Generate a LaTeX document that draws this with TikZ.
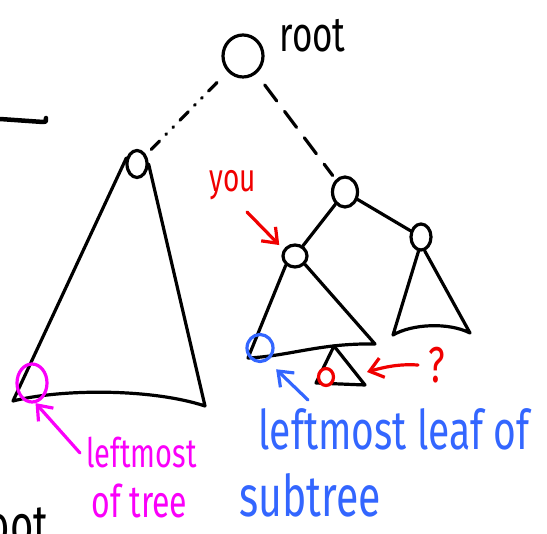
\documentclass[tikz,border=0pt]{standalone}
\usepackage{fontspec}
\setmainfont{Fira Sans}
\usetikzlibrary{arrows.meta,shapes.geometric}

\definecolor{inkred}{RGB}{240,0,0}
\definecolor{inkpink}{RGB}{250,0,250}
\definecolor{inkblue}{RGB}{51,102,255}
\newcommand{\tallink}[1]{\scalebox{1}[1.4]{#1}}

\begin{document}
\begin{tikzpicture}[
    x=1pt, y=-1pt,
    line width=3.2pt, line cap=round, line join=round,
    vtx/.style={draw, ellipse, inner sep=0pt},
    hand/.style={font=\fontsize{#1}{#1}\selectfont, inner sep=0pt, anchor=base west},
    barb/.style={-{Straight Barb[length=13pt,width=20pt]}},
    dashdot/.style={dash pattern=on 12pt off 9pt on 1pt off 9pt on 1pt off 9pt}
]
    \useasboundingbox (0,0) rectangle (547,534);

    % tree nodes
    \node[vtx, minimum width=40pt, minimum height=42pt] (root) at (243,56) {};
    \node[hand=35] (rootlbl) at (278,52) {\tallink{root}};
    \node[vtx, minimum width=20pt, minimum height=27pt] (lc) at (137,164) {};
    \node[vtx, minimum width=25pt, minimum height=30pt] (rc) at (345,192) {};
    \node[vtx, minimum width=24pt, minimum height=22pt] (you) at (295,256) {};
    \node[vtx, minimum width=20pt, minimum height=26pt] (sib) at (421,237) {};

    % edges
    \draw[dashdot, shorten <=15pt, shorten >=3pt] (root) -- (lc);
    \draw[dash pattern=on 20pt off 13pt, shorten <=14pt, shorten >=5pt] (root) -- (rc);
    \draw (rc) -- (you);
    \draw (rc) -- (sib);

    % subtrees
    \coordinate (ltl) at (13,401);
    \coordinate (ltr) at (205,406);
    \draw (lc.150) -- (ltl) .. controls (60,389) and (150,388) .. (ltr) -- (lc.east);

    \coordinate (ctl) at (248,358);
    \coordinate (ctr) at (375,344);
    \draw (you.225) -- (ctl) .. controls (290,356) and (320,343) .. (ctr) -- (you.-40);

    \coordinate (stop) at (334,346);
    \coordinate (sbl) at (316,383);
    \coordinate (sbr) at (365,385);
    \draw (stop) -- (sbl) -- (sbr) -- cycle;

    \coordinate (dbl) at (393,335);
    \coordinate (dbr) at (470,333);
    \draw (sib.-100) -- (dbl) .. controls (412,324) and (448,322) .. (dbr) -- (sib.-75);

    % leaves
    \node[vtx, draw=inkpink, minimum width=30pt, minimum height=38pt] (mleaf) at (32,383) {};
    \node[vtx, draw=inkblue, minimum width=26pt, minimum height=27pt] (bleaf) at (260,348) {};
    \node[vtx, draw=inkred, fill=white, minimum width=15pt, minimum height=17pt] (qleaf) at (326,377) {};

    % labels
    \node[hand=28, text=inkred] (youlbl) at (208,192) {\tallink{you}};
    \node[hand=36, text=inkred] (qmark) at (427,383) {\tallink{?}};
    \node[hand=29, text=inkpink] (mtxt) at (85,468) {\tallink{leftmost}};
    \node[hand=32, text=inkpink] (mtxt2) at (90,518) {\tallink{of tree}};
    \node[hand=39, text=inkblue] (btxt) at (257,450) {\tallink{leftmost leaf of}};
    \node[hand=41, text=inkblue] (btxt2) at (238,517) {\tallink{subtree}};
    \node[hand=40] (cutlbl) at (-29,545) {\tallink{root}};

    % pointers
    \coordinate (youtail) at (247,212);
    \draw[inkred, barb, shorten >=6pt] (youtail) -- (you.150);
    \coordinate (qtip) at (367,372);
    \draw[inkred, barb, shorten <=9pt] (qmark.west) to[bend right=10] (qtip);
    \coordinate (mtail) at (80,453);
    \draw[inkpink, barb] (mtail) -- (mleaf.-80);
    \coordinate (btail) at (308,400);
    \draw[inkblue, barb, shorten >=12pt] (btail) -- (bleaf.-60);

    % stray pen stroke at the left edge
    \draw[line width=4.5pt] (0,119) -- (43,122) .. controls (46,122) .. (46,118);
\end{tikzpicture}
\end{document}
